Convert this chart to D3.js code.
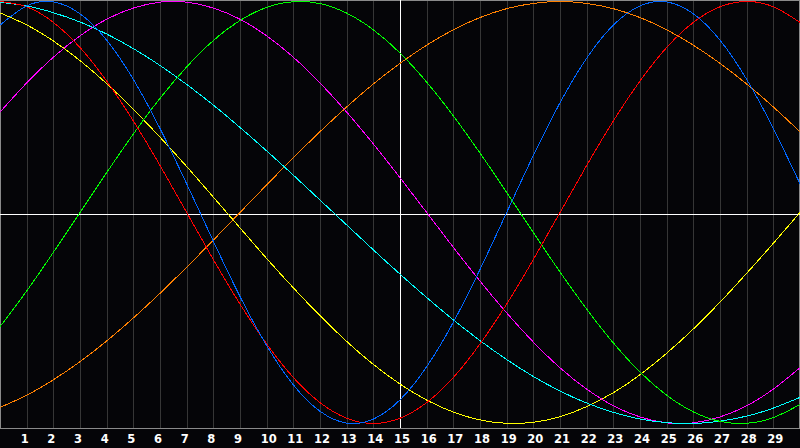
<!DOCTYPE html>
<html>
<head>
<meta charset="utf-8">
<script src="https://cdn.jsdelivr.net/npm/d3@7"></script>
<style>
  html, body { margin: 0; padding: 0; background: #050508; }
  svg { display: block; }
</style>
</head>
<body>
<div id="chart"></div>
<script>
// day index 0..30 across the plot, labels 1..29
const days = d3.range(0, 31);
const dayLabels = d3.range(1, 30);
const todayIndex = 15;

// cycle values per day (-1..1)
const physical = [0.888, 0.979, 0.998, 0.942, 0.817, 0.631, 0.398, 0.136, -0.136, -0.398, -0.631, -0.817, -0.942, -0.998, -0.979, -0.888, -0.731, -0.520, -0.270, 0, 0.270, 0.520, 0.731, 0.888, 0.979, 0.998, 0.942, 0.817, 0.631, 0.398, 0.136];
const emotional = [1, 0.975, 0.901, 0.782, 0.623, 0.434, 0.223, 0, -0.223, -0.434, -0.623, -0.782, -0.901, -0.975, -1, -0.975, -0.901, -0.782, -0.623, -0.434, -0.223, 0, 0.223, 0.434, 0.623, 0.782, 0.901, 0.975, 1, 0.975, 0.901];
const intellectual = [-0.541, -0.372, -0.189, 0, 0.189, 0.372, 0.541, 0.690, 0.815, 0.910, 0.972, 0.999, 0.990, 0.945, 0.866, 0.756, 0.618, 0.458, 0.282, 0.095, -0.095, -0.282, -0.458, -0.618, -0.756, -0.866, -0.945, -0.990, -0.999, -0.972, -0.910];
const intuitive = [0.476, 0.614, 0.736, 0.837, 0.916, 0.969, 0.997, 0.997, 0.969, 0.916, 0.837, 0.736, 0.614, 0.476, 0.325, 0.165, 0, -0.165, -0.325, -0.476, -0.614, -0.736, -0.837, -0.916, -0.969, -0.997, -0.997, -0.969, -0.916, -0.837, -0.736];
const aesthetic = [0.946, 0.889, 0.813, 0.720, 0.611, 0.489, 0.357, 0.218, 0.073, -0.073, -0.218, -0.357, -0.489, -0.611, -0.720, -0.813, -0.889, -0.946, -0.983, -0.999, -0.994, -0.968, -0.920, -0.854, -0.769, -0.667, -0.552, -0.425, -0.288, -0.146, 0];
const awareness = [-0.924, -0.866, -0.793, -0.707, -0.609, -0.5, -0.383, -0.259, -0.131, 0, 0.131, 0.259, 0.383, 0.5, 0.609, 0.707, 0.793, 0.866, 0.924, 0.966, 0.991, 1, 0.991, 0.966, 0.924, 0.866, 0.793, 0.707, 0.609, 0.5, 0.383];
const spiritual = [0.996, 0.979, 0.947, 0.903, 0.846, 0.777, 0.697, 0.607, 0.509, 0.403, 0.292, 0.177, 0.059, -0.059, -0.177, -0.292, -0.403, -0.509, -0.607, -0.697, -0.777, -0.846, -0.903, -0.947, -0.979, -0.996, -1, -0.989, -0.965, -0.927, -0.876];

const series = [
  { name: "Awareness", values: awareness, color: "#ff8000" },
  { name: "Aesthetic", values: aesthetic, color: "#ffff00" },
  { name: "Intuitive", values: intuitive, color: "#ff00ff" },
  { name: "Spiritual", values: spiritual, color: "#00ffff" },
  { name: "Intellectual", values: intellectual, color: "#00ff00" },
  { name: "Emotional", values: emotional, color: "#ff0000" },
  { name: "Physical", values: physical, color: "#0066ff" }
];

const width = 800;
const height = 448;
const plotH = 428;

const svg = d3.select("#chart")
  .append("svg")
  .attr("width", width)
  .attr("height", height);

const x = d3.scaleLinear().domain([0, 30]).range([0, width]);
const y = d3.scaleLinear().domain([-1, 1]).range([423.5, 1.5]);

// ---------------------------
// Grid
// ---------------------------
svg.append("g")
  .selectAll("line")
  .data(dayLabels)
  .join("line")
  .attr("x1", d => Math.round(x(d)) + 0.5)
  .attr("x2", d => Math.round(x(d)) + 0.5)
  .attr("y1", 0)
  .attr("y2", plotH)
  .attr("stroke", "#363636")
  .attr("stroke-width", 1);

// frame
svg.append("rect")
  .attr("x", 0.5)
  .attr("y", 0.5)
  .attr("width", width - 1)
  .attr("height", plotH)
  .attr("fill", "none")
  .attr("stroke", "#8a8a8a")
  .attr("stroke-width", 1);

// zero line and today line
svg.append("line")
  .attr("x1", 0)
  .attr("x2", width)
  .attr("y1", Math.round(plotH / 2) + 0.5)
  .attr("y2", Math.round(plotH / 2) + 0.5)
  .attr("stroke", "#ffffff");

svg.append("line")
  .attr("x1", Math.round(x(todayIndex)) + 0.5)
  .attr("x2", Math.round(x(todayIndex)) + 0.5)
  .attr("y1", 0)
  .attr("y2", plotH)
  .attr("stroke", "#ffffff");

// ---------------------------
// Curves
// ---------------------------
const line = d3.line()
  .x((d, i) => x(days[i]))
  .y(d => y(d))
  .curve(d3.curveNatural);

svg.append("g")
  .selectAll("path")
  .data(series)
  .join("path")
  .attr("d", d => line(d.values))
  .attr("fill", "none")
  .attr("stroke", d => d.color)
  .attr("stroke-width", 1)
  .attr("shape-rendering", "crispEdges");

// ---------------------------
// Day labels
// ---------------------------
svg.append("g")
  .selectAll("text")
  .data(dayLabels)
  .join("text")
  .attr("x", d => x(d) - 6)
  .attr("y", 443)
  .attr("fill", "#ffffff")
  .attr("font-family", "DejaVu Sans, Verdana, sans-serif")
  .attr("font-weight", "bold")
  .attr("font-size", 11.5)
  .text(d => d);
</script>
</body>
</html>
